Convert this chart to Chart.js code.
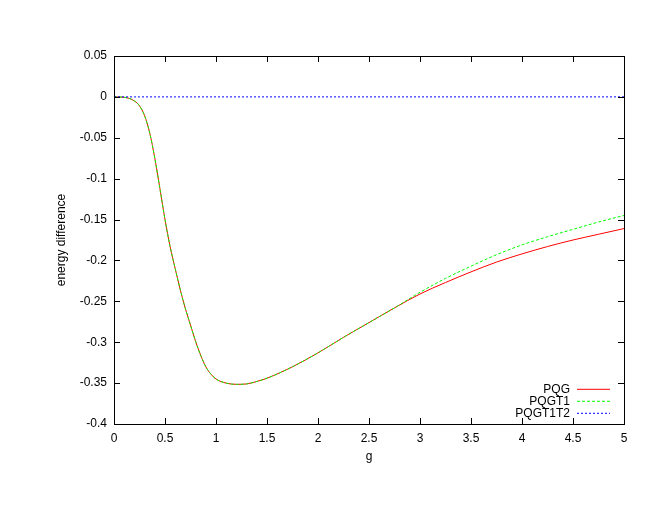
<!DOCTYPE html>
<html>
<head>
<meta charset="utf-8">
<script src="https://cdn.jsdelivr.net/npm/chart.js@4"></script>
<style>
  html, body { margin: 0; padding: 0; background: #fff; }
  #wrap { width: 660px; height: 510px; }
</style>
</head>
<body>
<div id="wrap"><canvas id="c" width="660" height="510"></canvas></div>
<script>
const gValues = [0, 0.1, 0.2, 0.25, 0.3, 0.35, 0.4, 0.45, 0.5, 0.55, 0.6, 0.65, 0.7, 0.75, 0.8, 0.85, 0.9, 0.95, 1.0, 1.1, 1.2, 1.3, 1.4, 1.5, 1.75, 2.0, 2.25, 2.5, 2.75, 3.0, 3.25, 3.5, 3.75, 4.0, 4.25, 4.5, 4.75, 5.0];
const pqg = [0, -0.0005, -0.005, -0.011, -0.023, -0.044, -0.075, -0.112, -0.150, -0.183, -0.210, -0.236, -0.259, -0.279, -0.299, -0.316, -0.330, -0.339, -0.345, -0.350, -0.3515, -0.351, -0.348, -0.344, -0.330, -0.313, -0.294, -0.276, -0.258, -0.241, -0.227, -0.214, -0.202, -0.192, -0.183, -0.175, -0.168, -0.161];
const pqgt1 = [0, -0.0005, -0.005, -0.011, -0.023, -0.044, -0.075, -0.112, -0.150, -0.183, -0.210, -0.236, -0.259, -0.279, -0.299, -0.316, -0.330, -0.339, -0.345, -0.350, -0.3515, -0.351, -0.348, -0.344, -0.330, -0.313, -0.294, -0.276, -0.258, -0.239, -0.222, -0.207, -0.193, -0.181, -0.171, -0.162, -0.153, -0.145];
const pqgt1t2 = [0, 0, 0, 0, 0, 0, 0, 0, 0, 0, 0, 0, 0, 0, 0, 0, 0, 0, 0, 0, 0, 0, 0, 0, 0, 0, 0, 0, 0, 0, 0, 0, 0, 0, 0, 0, 0, 0];
const seriesLabels = ["PQG", "PQGT1", "PQGT1T2"];
const xTitle = "g";
const yTitle = "energy difference";

const FONT = "'Liberation Sans', Arial, sans-serif";
const COLORS = ['rgb(255,0,0)', 'rgb(0,255,0)', 'rgb(0,0,255)'];
const DASHES = [[], [3, 2], [2, 2]];
const toPts = arr => gValues.map((x, i) => ({ x: x, y: arr[i] }));
const fmt = v => String(Number(Number(v).toFixed(2)));

const frame = {
  id: 'frame',
  afterDraw(chart) {
    const ctx = chart.ctx;
    const a = chart.chartArea;
    const xs = chart.scales.x, ys = chart.scales.y;
    ctx.save();
    ctx.strokeStyle = '#000';
    ctx.lineWidth = 1;
    ctx.setLineDash([]);
    ctx.strokeRect(Math.round(a.left) + 0.5, Math.round(a.top) + 0.5, Math.round(a.right - a.left), Math.round(a.bottom - a.top));
    const L = 6;
    ctx.beginPath();
    xs.ticks.forEach((t, i) => {
      const px = Math.round(xs.getPixelForTick(i)) + 0.5;
      ctx.moveTo(px, a.bottom); ctx.lineTo(px, a.bottom - L);
      ctx.moveTo(px, a.top); ctx.lineTo(px, a.top + L);
    });
    ys.ticks.forEach((t, i) => {
      const py = Math.round(ys.getPixelForTick(i)) + 0.5;
      ctx.moveTo(a.left, py); ctx.lineTo(a.left + L, py);
      ctx.moveTo(a.right, py); ctx.lineTo(a.right - L, py);
    });
    ctx.stroke();
    ctx.restore();

    // legend (gnuplot style, inside bottom-right)
    const rowY = [389, 401, 413];
    seriesLabels.forEach((lab, i) => {
      const y = rowY[i];
      ctx.save();
      ctx.font = '12px ' + FONT;
      ctx.textAlign = 'right';
      ctx.textBaseline = 'middle';
      ctx.fillStyle = '#000000';
      ctx.fillText(lab, 570, y + 0.5);
      ctx.restore();
      ctx.save();
      ctx.beginPath();
      ctx.lineWidth = 1;
      ctx.strokeStyle = COLORS[i];
      ctx.setLineDash(DASHES[i]);
      ctx.moveTo(577, y + 0.3);
      ctx.lineTo(610, y + 0.3);
      ctx.stroke();
      ctx.restore();
    });
  }
};

new Chart(document.getElementById('c'), {
  type: 'line',
  data: {
    datasets: [
      { label: seriesLabels[0], data: toPts(pqg), borderColor: COLORS[0], borderWidth: 1, borderDash: DASHES[0], pointRadius: 0, cubicInterpolationMode: 'monotone', order: 3, fill: false },
      { label: seriesLabels[1], data: toPts(pqgt1), borderColor: COLORS[1], borderWidth: 1, borderDash: DASHES[1], pointRadius: 0, cubicInterpolationMode: 'monotone', order: 2, fill: false },
      { label: seriesLabels[2], data: toPts(pqgt1t2), borderColor: COLORS[2], borderWidth: 1, borderDash: DASHES[2], pointRadius: 0, order: 1, fill: false }
    ]
  },
  options: {
    responsive: false,
    animation: false,
    devicePixelRatio: 1,
    layout: { padding: { left: 50, right: 36, top: 56, bottom: 44 } },
    plugins: { legend: { display: false }, tooltip: { enabled: false } },
    scales: {
      x: {
        type: 'linear', min: 0, max: 5,
        ticks: { stepSize: 0.5, color: '#000', padding: 7, font: { family: FONT, size: 12 }, maxRotation: 0, callback: v => fmt(v) },
        grid: { display: false, drawTicks: false },
        border: { display: false },
        title: { display: true, text: xTitle, color: '#000', font: { family: FONT, size: 12 }, padding: { top: 4, bottom: 2 } },
        afterFit(s) { s.height = 42; }
      },
      y: {
        type: 'linear', min: -0.4, max: 0.05,
        ticks: { stepSize: 0.05, color: '#000', padding: 7, font: { family: FONT, size: 12 }, callback: v => fmt(v) },
        grid: { display: false, drawTicks: false },
        border: { display: false },
        title: { display: true, text: yTitle, color: '#000', font: { family: FONT, size: 12 }, padding: { top: 4, bottom: 4 } },
        afterFit(s) { s.width = 64; }
      }
    }
  },
  plugins: [frame]
});
</script>
</body>
</html>
